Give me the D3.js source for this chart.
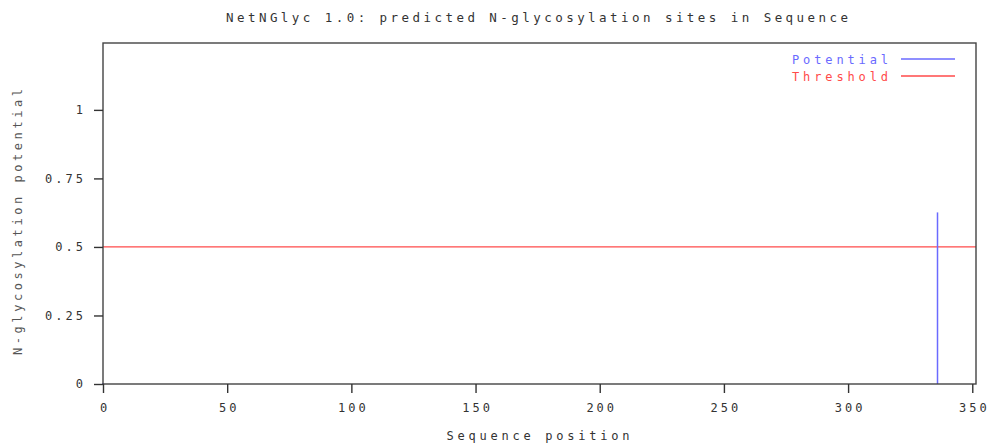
<!DOCTYPE html>
<html>
<head>
<meta charset="utf-8">
<script src="https://cdn.jsdelivr.net/npm/d3@7"></script>
<style>
  body { margin: 0; background: #fff; }
  text { font-family: "DejaVu Sans Mono", monospace; fill: #333; }
</style>
</head>
<body>
<svg id="chart"></svg>
<script>
// sequence positions and predicted potential (N-glyc sites)
var sitePositions = [0, 336]
var siteValues = [0, 0.626]
var thresholdValue = 0.5
var seqLength = 351.5

var xTicks = [0, 50, 100, 150, 200, 250, 300, 350]
var yTicks = [0, 0.25, 0.5, 0.75, 1]
var yTickLabels = ['0', '0.25', '0.5', '0.75', '1']

var width = 990, height = 446
var margin = { top: 43, right: 14, bottom: 62, left: 103 }

var svg = d3.select('#chart').attr('width', width).attr('height', height)

var x = d3.scaleLinear().domain([0, seqLength]).range([margin.left, width - margin.right])
var y = d3.scaleLinear().domain([0, 1.244]).range([height - margin.bottom, margin.top])

var blue = '#6a6aff'
var red = '#ff4a4a'

// title
svg.append('text')
  .attr('x', 537).attr('y', 22)
  .attr('text-anchor', 'middle')
  .attr('font-size', 12.5)
  .attr('textLength', 622).attr('lengthAdjust', 'spacing')
  .text('NetNGlyc 1.0: predicted N-glycosylation sites in Sequence')

// threshold line
svg.append('line')
  .attr('x1', x(0)).attr('x2', x(seqLength))
  .attr('y1', y(thresholdValue)).attr('y2', y(thresholdValue))
  .attr('stroke', red).attr('stroke-width', 1.3)

// potential impulses
svg.append('g').selectAll('line')
  .data(sitePositions)
  .enter().append('line')
  .attr('x1', function (d) { return x(d) })
  .attr('x2', function (d) { return x(d) })
  .attr('y1', y(0))
  .attr('y2', function (d, i) { return y(siteValues[i]) - (siteValues[i] === 0 ? 1 : 0) })
  .attr('stroke', blue).attr('stroke-width', 1.5)

// frame
svg.append('rect')
  .attr('x', x(0)).attr('y', y.range()[1])
  .attr('width', x(seqLength) - x(0)).attr('height', y(0) - y.range()[1])
  .attr('fill', 'none').attr('stroke', '#444').attr('stroke-width', 1.4)

// x axis
var xAxis = svg.append('g')
  .attr('transform', 'translate(0,' + y(0) + ')')
  .call(d3.axisBottom(x).tickValues(xTicks).tickSize(9).tickSizeOuter(0).tickPadding(10)
    .tickFormat(d3.format('d')))
xAxis.select('.domain').remove()
xAxis.selectAll('line').attr('stroke', '#333').attr('stroke-width', 1.4)
xAxis.selectAll('text').attr('font-size', 12).attr('letter-spacing', 3).attr('fill', '#333')
  .attr('dx', 1.5).attr('font-family', '"DejaVu Sans Mono", monospace')

// y axis
var yAxis = svg.append('g')
  .attr('transform', 'translate(' + x(0) + ',0)')
  .call(d3.axisLeft(y).tickValues(yTicks).tickSize(9).tickSizeOuter(0).tickPadding(11)
    .tickFormat(function (d, i) { return yTickLabels[i] }))
yAxis.select('.domain').remove()
yAxis.selectAll('line').attr('stroke', '#333').attr('stroke-width', 1.4)
yAxis.selectAll('text').attr('font-size', 12).attr('letter-spacing', 3).attr('fill', '#333')
  .attr('dx', 3).attr('font-family', '"DejaVu Sans Mono", monospace')

// axis labels
svg.append('text')
  .attr('x', 538).attr('y', 440)
  .attr('text-anchor', 'middle').attr('font-size', 12)
  .attr('textLength', 183).attr('lengthAdjust', 'spacing')
  .text('Sequence position')

svg.append('text')
  .attr('transform', 'translate(22,' + 222 + ') rotate(-90)')
  .attr('text-anchor', 'middle').attr('font-size', 12)
  .attr('textLength', 266).attr('lengthAdjust', 'spacing')
  .style('fill', '#555')
  .text('N-glycosylation potential')

// legend
var legend = [
  { label: 'Potential', color: blue, y: 59 },
  { label: 'Threshold', color: red, y: 76 }
]
var lg = svg.append('g').selectAll('g').data(legend).enter().append('g')
lg.append('text')
  .attr('x', 792).attr('y', function (d) { return d.y + 4.5 })
  .attr('font-size', 12)
  .attr('textLength', 96).attr('lengthAdjust', 'spacing')
  .style('fill', function (d) { return d.color })
  .text(function (d) { return d.label })
lg.append('line')
  .attr('x1', 901).attr('x2', 955)
  .attr('y1', function (d) { return d.y }).attr('y2', function (d) { return d.y })
  .attr('stroke', function (d) { return d.color }).attr('stroke-width', 1.3)
</script>
</body>
</html>
